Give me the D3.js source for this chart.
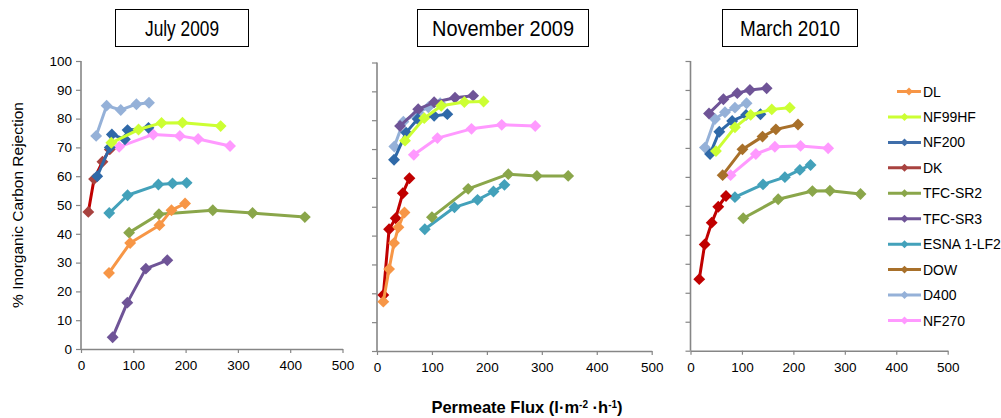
<!DOCTYPE html>
<html><head><meta charset="utf-8">
<script src="https://d3js.org/d3.v7.min.js"></script>
<style>body{margin:0;background:#fff}svg{display:block}</style>
</head><body>
<svg id="c" width="1001" height="418"></svg>
<script>
// ---- data ----
const seriesNames = ["DL","NF99HF","NF200","DK","TFC-SR2","TFC-SR3","ESNA 1-LF2","DOW","D400","NF270"];
const panelTitles = ["July 2009","November 2009","March 2010"];
const xTicks = [0,100,200,300,400,500];
const yTicks = [0,10,20,30,40,50,60,70,80,90,100];

// rows: [series, permeate flux, % rejection]
const july2009 = [
  ["D400",29,74],["D400",49,84.5],["D400",76,83],["D400",106,85],["D400",130,85.5],
  ["NF99HF",58,71.6],["NF99HF",110,76.2],["NF99HF",154,78.5],["NF99HF",194,78.6],["NF99HF",267,77.4],
  ["NF200",31,60],["NF200",55,70],["NF200",59,74.5],["NF200",84,72.8],["NF200",89,76],["NF200",129,76.8],
  ["DK",14,47.6],["DK",25,59],["DK",41,65],["DK",55,69.3],
  ["NF270",73,70.2],["NF270",138,74.5],["NF270",189,74],["NF270",224,72.9],["NF270",285,70.5],
  ["ESNA 1-LF2",54,47.2],["ESNA 1-LF2",89,53.4],["ESNA 1-LF2",148,57.1],["ESNA 1-LF2",175,57.5],["ESNA 1-LF2",202,57.7],
  ["TFC-SR2",92,40.4],["TFC-SR2",149,46.8],["TFC-SR2",252,48.2],["TFC-SR2",328,47.2],["TFC-SR2",428,45.8],
  ["DL",53.5,26.4],["DL",94,36.8],["DL",150,43],["DL",173,48.2],["DL",199,50.5],
  ["TFC-SR3",60.5,4.1],["TFC-SR3",88.6,16.1],["TFC-SR3",124,27.9],["TFC-SR3",165,30.8]
];
const november2009 = [
  ["TFC-SR3",42,78],["TFC-SR3",75,83.8],["TFC-SR3",104,86.2],["TFC-SR3",142,87.8],["TFC-SR3",175,88.5],
  ["D400",31.5,70.9],["D400",48,79.5],["D400",75,82.7],["D400",93.5,84.5],["D400",115,85.9],
  ["NF200",31,66.3],["NF200",53,75.7],["NF200",74,80.4],["NF200",104,81.5],["NF200",128,82.1],
  ["NF99HF",51,72.9],["NF99HF",86,80.7],["NF99HF",117,85],["NF99HF",159,86.3],["NF99HF",194,86.5],
  ["NF270",67,68],["NF270",110,73.8],["NF270",172,77],["NF270",227,78.4],["NF270",288,78],
  ["DK",11.5,19.4],["DK",22,42.2],["DK",34,46],["DK",47,54.7],["DK",59,59.9],
  ["DL",11.5,17.1],["DL",22,28.4],["DL",31,37.4],["DL",39,42.9],["DL",50,48],
  ["TFC-SR2",100,46.4],["TFC-SR2",166,56.2],["TFC-SR2",239,61.3],["TFC-SR2",291,60.7],["TFC-SR2",348,60.7],
  ["ESNA 1-LF2",87,42.2],["ESNA 1-LF2",141,49.8],["ESNA 1-LF2",183,52.4],["ESNA 1-LF2",212,55.3],["ESNA 1-LF2",232,57.6]
];
const march2010 = [
  ["TFC-SR3",36,81.9],["TFC-SR3",64,86.8],["TFC-SR3",91,88.9],["TFC-SR3",115.5,90],["TFC-SR3",148,90.6],
  ["D400",28,70.1],["D400",47.6,80],["D400",67,82.3],["D400",86.4,83.9],["D400",109,85.4],
  ["NF200",38,67.9],["NF200",56,75.6],["NF200",81,79.3],["NF200",108,81.4],["NF200",136,81.6],
  ["NF99HF",49.5,68.9],["NF99HF",86.4,77.1],["NF99HF",117,81.4],["NF99HF",158,83.3],["NF99HF",193,83.9],
  ["DOW",62.5,60.6],["DOW",101,69.5],["DOW",140,73.9],["DOW",166,76.4],["DOW",209,78.1],
  ["NF270",78,60.6],["NF270",127,67.9],["NF270",164,70.4],["NF270",214,70.7],["NF270",267.6,69.9],
  ["ESNA 1-LF2",86.4,53],["ESNA 1-LF2",141,57.4],["ESNA 1-LF2",183.5,59.9],["ESNA 1-LF2",212.6,62.4],["ESNA 1-LF2",233.4,64.1],
  ["TFC-SR2",102.5,45.7],["TFC-SR2",170.5,52.3],["TFC-SR2",237,55.1],["TFC-SR2",271,55.2],["TFC-SR2",330.5,54.1],
  ["DK",17,24.7],["DK",27.6,36.7],["DK",41.2,44.2],["DK",54,49.7],["DK",69,53.4]
];
const panelData = [july2009, november2009, march2010];

// ---- style ----
const colors = {
  "DL":"#F79646","NF99HF":"#CCFF33","NF200":"#2F69A8","DK":"#C00000","TFC-SR2":"#8AA64A",
  "TFC-SR3":"#6F5497","ESNA 1-LF2":"#43A1BA","DOW":"#A8702A","D400":"#95B1D8","NF270":"#FF99FF"
};
const legendColors = Object.assign({}, colors, {"DK":"#A8423F","NF200":"#3F6EAA"});
const panels = [
  {x0:81, x1:342.5, yTop:61, yBot:349, title:{x:115,w:133,len:74}},
  {x0:377, x1:651.7, yTop:62.5, yBot:351, title:{x:417,w:171,len:142}},
  {x0:690.5, x1:947.7, yTop:61, yBot:350.7, title:{x:722,w:135,len:100}}
];
const font = "'Liberation Sans', Arial, sans-serif";
const axisColor = "#868686";

const svg = d3.select("#c");
const diamond = d3.symbol().type(d3.symbolDiamond2 || d3.symbolDiamond);

panels.forEach((p, i) => {
  const x = d3.scaleLinear().domain([0,500]).range([p.x0, p.x1]);
  const y = d3.scaleLinear().domain([0,100]).range([p.yBot, p.yTop]);
  const g = svg.append("g");

  const ya = g.append("g").attr("transform", `translate(${p.x0},0)`)
    .call(d3.axisLeft(y).tickValues(yTicks).tickSize(5).tickFormat(i === 0 ? d3.format("d") : ""));
  const xa = g.append("g").attr("transform", `translate(0,${p.yBot})`)
    .call(d3.axisBottom(x).tickValues(xTicks).tickSize(4).tickSizeOuter(0).tickFormat(d3.format("d")));
  [ya, xa].forEach(a => {
    a.select(".domain").attr("stroke", axisColor).attr("stroke-width", 1.6);
    a.selectAll(".tick line").attr("stroke", axisColor).attr("stroke-width", 1.2);
    a.selectAll("text").attr("fill", "#000").style("font-family", font).style("font-size", "13.5px");
  });
  ya.select(".domain").attr("d", `M0,${p.yTop}V${p.yBot}`);
  ya.selectAll("text").attr("x", -9);
  xa.selectAll("text").attr("dy", "1.05em");

  // title box
  g.append("rect").attr("x", p.title.x + 0.5).attr("y", 9.5).attr("width", p.title.w).attr("height", 37)
    .attr("fill", "#fff").attr("stroke", "#000").attr("stroke-width", 1);
  g.append("text").attr("x", p.title.x + p.title.w/2 + 0.5 - p.title.len/2).attr("y", 36)
    .attr("textLength", p.title.len).attr("lengthAdjust", "spacingAndGlyphs")
    .style("font-family", font).style("font-size", "22px").text(panelTitles[i]);

  const grouped = d3.group(panelData[i], d => d[0]);
  const order = seriesNames.slice().reverse();
  const line = d3.line().x(d => x(d[1])).y(d => y(d[2]));
  order.forEach(name => {
    const pts = grouped.get(name);
    if (!pts) return;
    g.append("path").datum(pts).attr("d", line).attr("fill", "none")
      .attr("stroke", colors[name]).attr("stroke-width", 3).attr("stroke-linejoin", "round");
    g.selectAll(null).data(pts).enter().append("path")
      .attr("d", diamond.size(90)())
      .attr("transform", d => `translate(${x(d[1])},${y(d[2])})`)
      .attr("fill", name === "DK" && i === 0 ? "#A8423F" : colors[name]);
  });
});

// y-axis title
svg.append("text").attr("transform", "translate(23,205) rotate(-90)").attr("text-anchor", "middle")
  .style("font-family", font).style("font-size", "15.5px").text("% Inorganic Carbon Rejection");

// x-axis title
const xt = svg.append("text").attr("x", 527).attr("y", 413).attr("text-anchor", "middle")
  .style("font-family", font).style("font-size", "16.5px").style("font-weight", "bold");
xt.append("tspan").text("Permeate Flux (l\u00b7m");
xt.append("tspan").attr("dy", -5).style("font-size", "10px").text("-2");
xt.append("tspan").attr("dy", 5).text(" \u00b7h");
xt.append("tspan").attr("dy", -5).style("font-size", "10px").text("-1");
xt.append("tspan").attr("dy", 5).text(")");

// legend
const leg = svg.append("g");
const legY = d3.scaleLinear().domain([0, seriesNames.length - 1]).range([91.5, 320.5]);
seriesNames.forEach((name, k) => {
  const yy = legY(k);
  const xs = k === 0 ? 897 : 888;
  leg.append("line").attr("x1", xs).attr("x2", 921).attr("y1", yy).attr("y2", yy)
    .attr("stroke", legendColors[name]).attr("stroke-width", 3);
  leg.append("path").attr("d", diamond.size(40)()).attr("transform", `translate(${(xs+921)/2},${yy})`)
    .attr("fill", legendColors[name]);
  leg.append("text").attr("x", 923).attr("y", yy + 5).style("font-family", font).style("font-size", "14px")
    .text(name);
});
</script>
</body></html>
